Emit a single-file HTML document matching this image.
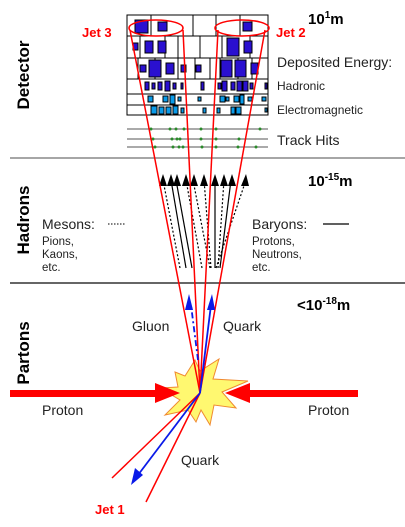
<!DOCTYPE html>
<html><head><meta charset="utf-8"><style>
html,body{margin:0;padding:0;background:#fff;width:405px;height:527px;overflow:hidden}
svg{display:block;font-family:"Liberation Sans",sans-serif}
</style></head><body>
<svg width="405" height="527" viewBox="0 0 405 527">
<g stroke="#000" stroke-width="1" fill="none">
<rect x="127" y="15" width="141" height="100"/>
<line x1="127" y1="36" x2="268" y2="36"/><line x1="127" y1="58" x2="268" y2="58"/>
<line x1="127" y1="79" x2="268" y2="79"/><line x1="127" y1="94" x2="268" y2="94"/>
<line x1="127" y1="105" x2="268" y2="105"/>
<line x1="151" y1="15" x2="151" y2="36"/><line x1="193" y1="15" x2="193" y2="36"/><line x1="216" y1="15" x2="216" y2="36"/><line x1="240" y1="15" x2="240" y2="36"/>
<line x1="140" y1="36" x2="140" y2="58"/><line x1="165" y1="36" x2="165" y2="58"/><line x1="178" y1="36" x2="178" y2="58"/><line x1="200" y1="36" x2="200" y2="58"/><line x1="222" y1="36" x2="222" y2="58"/><line x1="250" y1="36" x2="250" y2="58"/>
<line x1="138" y1="58" x2="138" y2="79"/><line x1="155" y1="58" x2="155" y2="79"/><line x1="178" y1="58" x2="178" y2="79"/><line x1="195" y1="58" x2="195" y2="79"/><line x1="210" y1="58" x2="210" y2="79"/><line x1="220" y1="58" x2="220" y2="79"/><line x1="238" y1="58" x2="238" y2="79"/><line x1="252" y1="58" x2="252" y2="79"/>
</g>
<g stroke="#000" stroke-width="1">
<rect x="135" y="20" width="13" height="13" fill="#2a10d0"/><rect x="158" y="22" width="9" height="9" fill="#2a10d0"/><rect x="243" y="22" width="9" height="9" fill="#2a10d0"/>
<rect x="133" y="43" width="5" height="7" fill="#2a10d0"/><rect x="145" y="41" width="8" height="12" fill="#2a10d0"/><rect x="158" y="41" width="8" height="12" fill="#2a10d0"/><rect x="227" y="38" width="12" height="18" fill="#2a10d0"/><rect x="244" y="41" width="8" height="12" fill="#2a10d0"/>
<rect x="140" y="65" width="6" height="7" fill="#2a10d0"/><rect x="149" y="60" width="12" height="17" fill="#2a10d0"/><rect x="166" y="63" width="8" height="11" fill="#2a10d0"/><rect x="181" y="65" width="5" height="7" fill="#2a10d0"/><rect x="196" y="65" width="5" height="7" fill="#2a10d0"/><rect x="221" y="60" width="11" height="17" fill="#2a10d0"/><rect x="235" y="60" width="11" height="17" fill="#2a10d0"/><rect x="251" y="63" width="7" height="11" fill="#2a10d0"/>
<rect x="145" y="82" width="4" height="8" fill="#2a10d0"/><rect x="152" y="83" width="3" height="6" fill="#2a10d0"/><rect x="158" y="82" width="4" height="8" fill="#2a10d0"/><rect x="165" y="81" width="5" height="10" fill="#2a10d0"/><rect x="173" y="83" width="3" height="6" fill="#2a10d0"/><rect x="181" y="83" width="2" height="6" fill="#2a10d0"/><rect x="201" y="82" width="3" height="8" fill="#2a10d0"/><rect x="218" y="83" width="3" height="6" fill="#2a10d0"/><rect x="222" y="81" width="5" height="10" fill="#2a10d0"/><rect x="231" y="82" width="4" height="8" fill="#2a10d0"/><rect x="237" y="81" width="5" height="10" fill="#2a10d0"/><rect x="243" y="81" width="5" height="10" fill="#2a10d0"/><rect x="250" y="83" width="3" height="6" fill="#2a10d0"/><rect x="265" y="83" width="2" height="6" fill="#2a10d0"/>
<rect x="148" y="96" width="5" height="6" fill="#0a9ae8"/><rect x="163" y="96" width="5" height="6" fill="#0a9ae8"/><rect x="170" y="95" width="5" height="9" fill="#0a9ae8"/><rect x="178" y="97" width="3" height="4" fill="#0a9ae8"/><rect x="198" y="97" width="3" height="4" fill="#0a9ae8"/><rect x="220" y="96" width="5" height="6" fill="#0a9ae8"/><rect x="226" y="97" width="3" height="4" fill="#0a9ae8"/><rect x="234" y="96" width="5" height="6" fill="#0a9ae8"/><rect x="240" y="95" width="4" height="9" fill="#0a9ae8"/><rect x="248" y="97" width="4" height="4" fill="#0a9ae8"/><rect x="262" y="97" width="4" height="4" fill="#0a9ae8"/>
<rect x="151" y="106" width="6" height="8" fill="#0a9ae8"/><rect x="159" y="107" width="5" height="7" fill="#0a9ae8"/><rect x="166" y="107" width="5" height="7" fill="#0a9ae8"/><rect x="173" y="106" width="5" height="8" fill="#0a9ae8"/><rect x="181" y="108" width="3" height="5" fill="#0a9ae8"/><rect x="203" y="108" width="3" height="5" fill="#0a9ae8"/><rect x="217" y="108" width="3" height="5" fill="#0a9ae8"/><rect x="231" y="107" width="4" height="7" fill="#0a9ae8"/><rect x="236" y="107" width="5" height="7" fill="#0a9ae8"/><rect x="265" y="108" width="2" height="4" fill="#0a9ae8"/>
</g>
<g stroke="#555" stroke-width="1">
<line x1="127" y1="129" x2="268" y2="129"/><line x1="127" y1="139" x2="268" y2="139"/><line x1="127" y1="147" x2="268" y2="147"/>
<g fill="#2a8a2a" stroke="none">
<circle cx="151" cy="129" r="1.5"/><circle cx="170" cy="129" r="1.5"/><circle cx="176" cy="129" r="1.5"/><circle cx="184" cy="129" r="1.5"/><circle cx="201" cy="129" r="1.5"/><circle cx="216" cy="129" r="1.5"/><circle cx="260" cy="129" r="1.5"/>
<circle cx="153" cy="139" r="1.5"/><circle cx="172" cy="139" r="1.5"/><circle cx="177" cy="139" r="1.5"/><circle cx="180" cy="139" r="1.5"/><circle cx="201" cy="139" r="1.5"/><circle cx="216" cy="139" r="1.5"/><circle cx="239" cy="139" r="1.5"/>
<circle cx="155" cy="147" r="1.5"/><circle cx="173" cy="147" r="1.5"/><circle cx="179" cy="147" r="1.5"/><circle cx="183" cy="147" r="1.5"/><circle cx="202" cy="147" r="1.5"/><circle cx="216" cy="147" r="1.5"/><circle cx="238" cy="147" r="1.5"/><circle cx="256" cy="147" r="1.5"/>
</g></g>
<line x1="10" y1="158" x2="405" y2="158" stroke="#888" stroke-width="1.5"/>
<line x1="10" y1="283" x2="405" y2="283" stroke="#333" stroke-width="1.5"/>
<g stroke="#000" stroke-width="1.2" fill="none">
<line x1="180" y1="268" x2="163" y2="180" stroke-dasharray="2,2"/>
<line x1="186" y1="268" x2="171" y2="180"/>
<line x1="192" y1="268" x2="176" y2="180"/>
<line x1="202" y1="268" x2="186" y2="180" stroke-dasharray="2,2"/>
<line x1="210" y1="268" x2="193" y2="180" stroke-dasharray="2,2"/>
<line x1="211" y1="268" x2="204" y2="180" stroke-dasharray="2,2"/>
<line x1="215" y1="268" x2="215" y2="180"/>
<line x1="218" y1="268" x2="224" y2="180" stroke-dasharray="2,2"/>
<line x1="220" y1="268" x2="231" y2="180"/>
<line x1="216" y1="268" x2="246" y2="180" stroke-dasharray="2,2"/>
</g>
<g fill="#000">
<polygon points="163,174 159,186 167,186"/><polygon points="171,174 167,186 175,186"/><polygon points="177,174 173,186 181,186"/><polygon points="186,174 182,186 190,186"/><polygon points="194,174 190,186 198,186"/><polygon points="204,174 200,186 208,186"/><polygon points="215,174 211,186 219,186"/><polygon points="224,174 220,186 228,186"/><polygon points="232,174 228,186 236,186"/><polygon points="246,174 241,186 249,186"/>
</g>
<polygon fill="#fff870" stroke="#f08a30" stroke-width="1" points="175,372 185,376 195,360 200,371 219,359 213,379 248,381 222,392 236,408 214,405 210,425 201,410 196,422 188,410 165,415 180,400 160,388 178,387"/>
<g fill="#f00">
<rect x="10" y="390" width="150" height="7"/><polygon points="155,383 180,393 155,403"/>
<rect x="245" y="390" width="113" height="7"/><polygon points="250,383 225,393 250,403"/>
</g>
<g stroke="#f00" stroke-width="1.5" fill="none">
<line x1="200" y1="393" x2="130" y2="30"/><line x1="200" y1="393" x2="183" y2="30"/>
<line x1="200" y1="393" x2="218" y2="30"/><line x1="200" y1="393" x2="265" y2="30"/>
<line x1="200" y1="393" x2="112" y2="478"/><line x1="200" y1="393" x2="146" y2="502"/>
<ellipse cx="156" cy="28" rx="27" ry="8"/><ellipse cx="242" cy="28" rx="27" ry="8"/>
</g>
<g stroke="#0a1ae8" stroke-width="1.8" fill="#0a1ae8">
<line x1="200" y1="393" x2="211" y2="305"/><polygon points="212,294 207,310 215,310" stroke="none"/>
<line x1="198" y1="360" x2="191" y2="305" stroke-dasharray="6,3,2,3"/><polygon points="189,294 185,310 193,310" stroke="none"/>
<line x1="200" y1="393" x2="138" y2="475"/><polygon points="131,485 135,468 143,475" stroke="none"/>
</g>
<g font-weight="bold" font-size="17" fill="#000">
<text transform="translate(29,75) rotate(-90)" text-anchor="middle">Detector</text>
<text transform="translate(29,220) rotate(-90)" text-anchor="middle">Hadrons</text>
<text transform="translate(29,353) rotate(-90)" text-anchor="middle">Partons</text>
</g>
<g font-weight="bold" font-size="15" fill="#000">
<text x="308" y="24">10<tspan font-size="10" dy="-6">1</tspan><tspan dy="6">m</tspan></text>
<text x="308" y="186">10<tspan font-size="10" dy="-6">-15</tspan><tspan dy="6">m</tspan></text>
<text x="297" y="310">&lt;10<tspan font-size="10" dy="-6">-18</tspan><tspan dy="6">m</tspan></text>
</g>
<g fill="#f00" font-weight="bold" font-size="13">
<text x="82" y="37">Jet 3</text>
<text x="276" y="37">Jet 2</text>
<text x="95" y="514">Jet 1</text>
</g>
<g fill="#222">
<text x="277" y="67" font-size="14">Deposited Energy:</text>
<text x="277" y="90" font-size="12">Hadronic</text>
<text x="277" y="114" font-size="12">Electromagnetic</text>
<text x="277" y="145" font-size="14">Track Hits</text>
<text x="42" y="229" font-size="14">Mesons:</text>
<line x1="108" y1="224" x2="125" y2="224" stroke="#000" stroke-dasharray="1.5,1.5"/>
<text x="42" y="245" font-size="11.5"><tspan x="42">Pions,</tspan><tspan x="42" dy="13">Kaons,</tspan><tspan x="42" dy="13">etc.</tspan></text>
<text x="252" y="229" font-size="14">Baryons:</text>
<line x1="323" y1="224" x2="349" y2="224" stroke="#000" stroke-width="1.2"/>
<text x="252" y="245" font-size="11.5"><tspan x="252">Protons,</tspan><tspan x="252" dy="13">Neutrons,</tspan><tspan x="252" dy="13">etc.</tspan></text>
<text x="132" y="331" font-size="14">Gluon</text>
<text x="223" y="331" font-size="14">Quark</text>
<text x="42" y="415" font-size="14">Proton</text>
<text x="308" y="415" font-size="14">Proton</text>
<text x="181" y="465" font-size="14">Quark</text>
</g>
</svg>
</body></html>
